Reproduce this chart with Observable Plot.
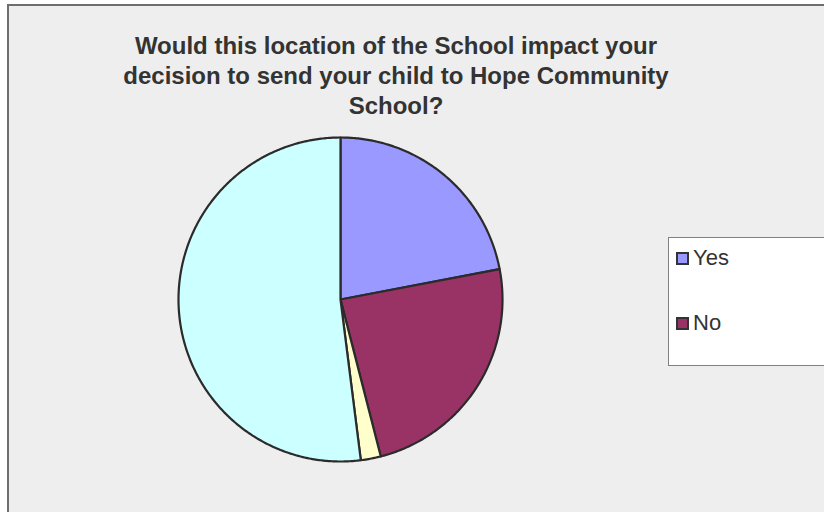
<!DOCTYPE html>
<html>
<head>
<meta charset="utf-8">
<script src="https://cdn.jsdelivr.net/npm/d3@7"></script>
<script src="https://cdn.jsdelivr.net/npm/@observablehq/plot@0.6"></script>
<style>
  html, body { margin: 0; padding: 0; background: #ffffff; }
  #wrap { position: relative; width: 824px; height: 512px; overflow: hidden; background: #ffffff; font-family: "Liberation Sans", Arial, sans-serif; }
  #frame { position: absolute; left: 7px; top: 4px; width: 840px; height: 540px; background: #eeeeee; border-left: 2px solid #6e6e6e; border-top: 2px solid #6e6e6e; }
  #title { position: absolute; left: 96px; width: 600px; top: 31px; text-align: center; font-weight: bold; font-size: 24px; line-height: 30px; color: #333333; }
  #chart { position: absolute; left: 0; top: 0; }
  #legend { position: absolute; left: 668px; top: 237px; width: 200px; height: 127px; background: #ffffff; border: 1px solid #808080; }
  .item { position: absolute; left: 7px; font-size: 22px; color: #333333; display: flex; align-items: center; }
  .sw { width: 9px; height: 9px; border: 2px solid #333333; margin-right: 4px; }
</style>
</head>
<body>
<div id="wrap">
  <div id="frame"></div>
  <div id="title">Would this location of the School impact your decision to send your child to Hope Community School?</div>
  <div id="chart"></div>
  <div id="legend"></div>
</div>
<script>
// Data
const categories = ["Yes", "No", "Unsure", "No answer"];
const values = [11, 12, 1, 26];
const colors = ["#9999FF", "#993366", "#FFFFCC", "#CCFFFF"];
const legendCategories = ["Yes", "No"];

// Layout
const W = 824, H = 512;
const cx = 340, cy = 299, r = 162;

// Build slice polygons from the data
const arcs = d3.pie().sort(null)(values);
const pts = [];
arcs.forEach((a, i) => {
  const cat = categories[i];
  pts.push({cat, px: cx, py: cy});
  const n = Math.max(4, Math.ceil((a.endAngle - a.startAngle) / 0.01));
  for (let k = 0; k <= n; k++) {
    const t = a.startAngle + (a.endAngle - a.startAngle) * k / n;
    pts.push({cat, px: cx + r * Math.sin(t), py: cy - r * Math.cos(t)});
  }
});

const plot = Plot.plot({
  width: W, height: H,
  margin: 0,
  style: {background: "transparent"},
  x: {domain: [0, W], range: [0, W], axis: null},
  y: {domain: [0, H], range: [0, H], axis: null},
  color: {domain: categories, range: colors},
  marks: [
    Plot.line(pts, {x: "px", y: "py", z: "cat", fill: "cat", stroke: "#2b2b2b", strokeWidth: 2.2, strokeLinejoin: "round", curve: "linear-closed"})
  ]
});
document.getElementById("chart").appendChild(plot);

// Legend
const leg = document.getElementById("legend");
legendCategories.forEach((c, i) => {
  const d = document.createElement("div");
  d.className = "item";
  d.style.top = (7 + i * 65) + "px";
  const s = document.createElement("span");
  s.className = "sw";
  s.style.background = colors[categories.indexOf(c)];
  d.appendChild(s);
  d.appendChild(document.createTextNode(c));
  leg.appendChild(d);
});
</script>
</body>
</html>
